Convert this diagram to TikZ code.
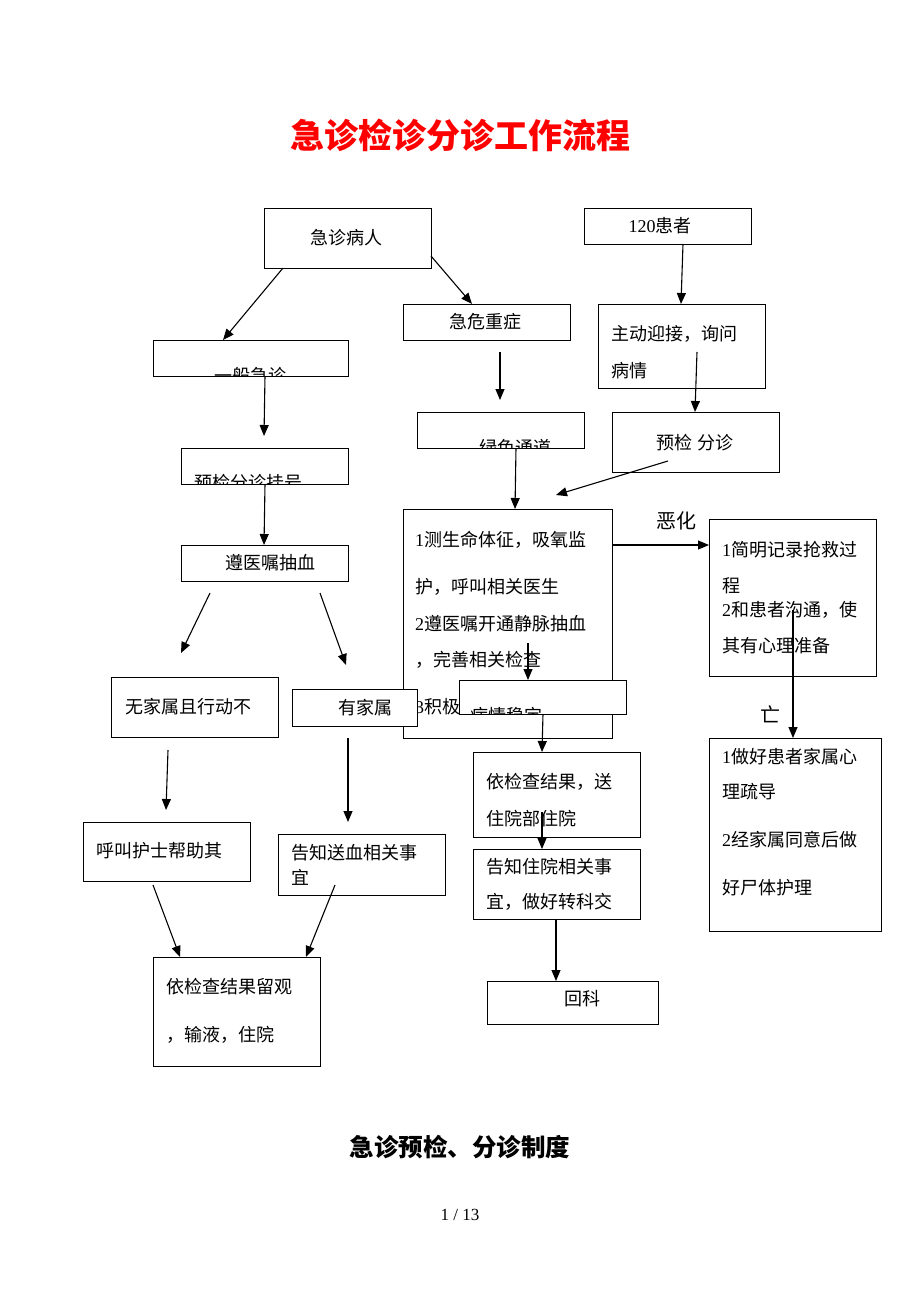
\documentclass[tikz,border=0pt]{standalone}
\usepackage{fontspec}
\setmainfont{Noto Sans CJK SC}
\newfontfamily\tnr{Liberation Serif}
\usetikzlibrary{arrows.meta}
\tikzset{
  box/.style={draw, line width=1pt, fill=white, inner sep=0pt},
  txt/.style={anchor=west, inner sep=0pt, font=\fontsize{18}{18}\selectfont},
  ctxt/.style={anchor=center, inner sep=0pt, font=\fontsize{18}{18}\selectfont},
  arr/.style={line width=1.1pt, -{Triangle[length=11pt,width=9pt]}},
}
\newcommand\bx[5]{\node[box, minimum width={(#4-#2)*1pt}, minimum height={(#5-#3)*1pt}] (#1) at ({(#2+#4)/2},{(#3+#5)/2}) {};}
\newcommand\ar[3]{\coordinate (#1s) at (#2); \coordinate (#1e) at (#3); \draw[arr] (#1s) -- (#1e);}
\begin{document}
\begin{tikzpicture}[x=1pt,y=-1pt]
\useasboundingbox (0,0) rectangle (920,1302);
% title
\node[inner sep=0pt, font=\fontsize{34}{34}\selectfont\bfseries, text=red] (title) at (460,135) {急诊检诊分诊工作流程};
% top boxes
\bx{jzbr}{264}{208}{431}{268}
\node[ctxt] (tjzbr) at (346,238) {急诊病人};
\bx{p120}{584}{208}{751}{244}
\node[ctxt] (tp120) at (660,226) {{\tnr 120}患者};
\bx{jwzz}{403}{304}{570}{340}
\node[ctxt] (tjwzz) at (485,322) {急危重症};
\bx{zdyj}{598}{304}{765}{388}
\node[txt] (tzdyj1) at (611,334) {主动迎接，询问};
\node[txt] (tzdyj2) at (611,371) {病情};
\bx{ybjz}{153}{340}{348}{376}
\begin{scope}
\clip (ybjz.south west) rectangle (ybjz.north east);
\node[ctxt] (tybjz) at (250,376) {一般急诊};
\end{scope}
\bx{lstd}{417}{412}{584}{448}
\begin{scope}
\clip (lstd.south west) rectangle (lstd.north east);
\node[ctxt] (tlstd) at (515,448) {绿色通道};
\end{scope}
\bx{yjfz}{612}{412}{779}{472}
\node[ctxt] (tyjfz) at (695,443) {预检 分诊};
\bx{yfgh}{181}{448}{348}{484}
\begin{scope}
\clip (yfgh.south west) rectangle (yfgh.north east);
\node[ctxt] (tyfgh) at (248,483) {预检分诊挂号};
\end{scope}
% big box
\bx{big}{403}{509}{612}{738}
\node[txt] (tbig1) at (415,540) {{\tnr 1}测生命体征，吸氧监};
\node[txt] (tbig2) at (415,587) {护，呼叫相关医生};
\node[txt] (tbig3) at (415,624) {{\tnr 2}遵医嘱开通静脉抽血};
\node[txt] (tbig4) at (415,660) {，完善相关检查};
\node[txt] (tbig5) at (415,707) {{\tnr 3}积极};
\bx{yzcx}{181}{545}{348}{581}
\node[ctxt] (tyzcx) at (270,563) {遵医嘱抽血};
\bx{jmjl}{709}{519}{876}{676}
\node[txt] (tjmjl1) at (722,550) {{\tnr 1}简明记录抢救过};
\node[txt] (tjmjl2) at (722,586) {程};
\node[txt] (tjmjl3) at (722,610) {{\tnr 2}和患者沟通，使};
\node[txt] (tjmjl4) at (722,646) {其有心理准备};
\node[inner sep=0pt, font=\fontsize{20}{20}\selectfont] (leh) at (676,521) {恶化};
\node[inner sep=0pt, font=\fontsize{20}{20}\selectfont] (lw) at (770,714) {亡};
\bx{wjs}{111}{677}{278}{737}
\node[ctxt] (twjs) at (188,707) {无家属且行动不};
\bx{yjs}{292}{689}{417}{726}
\node[ctxt] (tyjs) at (365,708) {有家属};
\bx{bqwd}{459}{680}{626}{714}
\begin{scope}
\clip (bqwd.south west) rectangle (bqwd.north east);
\node[ctxt] (tbqwd) at (506,716) {病情稳定};
\end{scope}
\bx{yjcj}{473}{752}{640}{837}
\node[txt] (tyjcj1) at (486,782) {依检查结果，送};
\node[txt] (tyjcj2) at (486,819) {住院部住院};
\bx{gzzy}{473}{849}{640}{919}
\node[txt] (tgzzy1) at (486,867) {告知住院相关事};
\node[txt] (tgzzy2) at (486,902) {宜，做好转科交};
\bx{hk}{487}{981}{658}{1024}
\node[ctxt] (thk) at (582,999) {回科};
\bx{zhhl}{709}{738}{881}{931}
\node[txt] (tzhhl1) at (722,757) {{\tnr 1}做好患者家属心};
\node[txt] (tzhhl2) at (722,792) {理疏导};
\node[txt] (tzhhl3) at (722,840) {{\tnr 2}经家属同意后做};
\node[txt] (tzhhl4) at (722,888) {好尸体护理};
\bx{hjhs}{83}{822}{250}{881}
\node[txt] (thjhs) at (96,851) {呼叫护士帮助其};
\bx{gzsx}{278}{834}{445}{895}
\node[txt] (tgzsx1) at (291,853) {告知送血相关事};
\node[txt] (tgzsx2) at (291,877) {宜};
\bx{yjlg}{153}{957}{320}{1066}
\node[txt] (tyjlg1) at (166,987) {依检查结果留观};
\node[txt] (tyjlg2) at (166,1035) {，输液，住院};
% arrows
\ar{a1}{283,268}{223,340}
\ar{a2}{431,256}{472,304}
\ar{a3}{683,244}{681,304}
\ar{a4}{500,352}{500,400}
\ar{a5}{697,352}{695,412}
\ar{a6}{265,376}{264,436}
\ar{a7}{265,484}{264,545}
\ar{a8}{516,448}{515,509}
\ar{a9}{668,461}{556,495}
\ar{a10}{210,593}{181,653}
\ar{a11}{320,593}{346,665}
\ar{a12}{612,545}{709,545}
\ar{a13}{793,610}{793,738}
\ar{a14}{528,643}{528,680}
\ar{a15}{543,714}{542,752}
\ar{a16}{542,812}{542,849}
\ar{a17}{556,919}{556,981}
\ar{a18}{168,750}{166,810}
\ar{a19}{348,738}{348,822}
\ar{a20}{153,885}{180,957}
\ar{a21}{335,885}{306,957}
% bottom
\node[inner sep=0pt, font=\fontsize{24.5}{24.5}\selectfont\bfseries] (sub) at (460,1147) {急诊预检、分诊制度};
\node[inner sep=0pt, font=\tnr\fontsize{17}{17}\selectfont] (pg) at (460,1215) {1 / 13};
\end{tikzpicture}
\end{document}
